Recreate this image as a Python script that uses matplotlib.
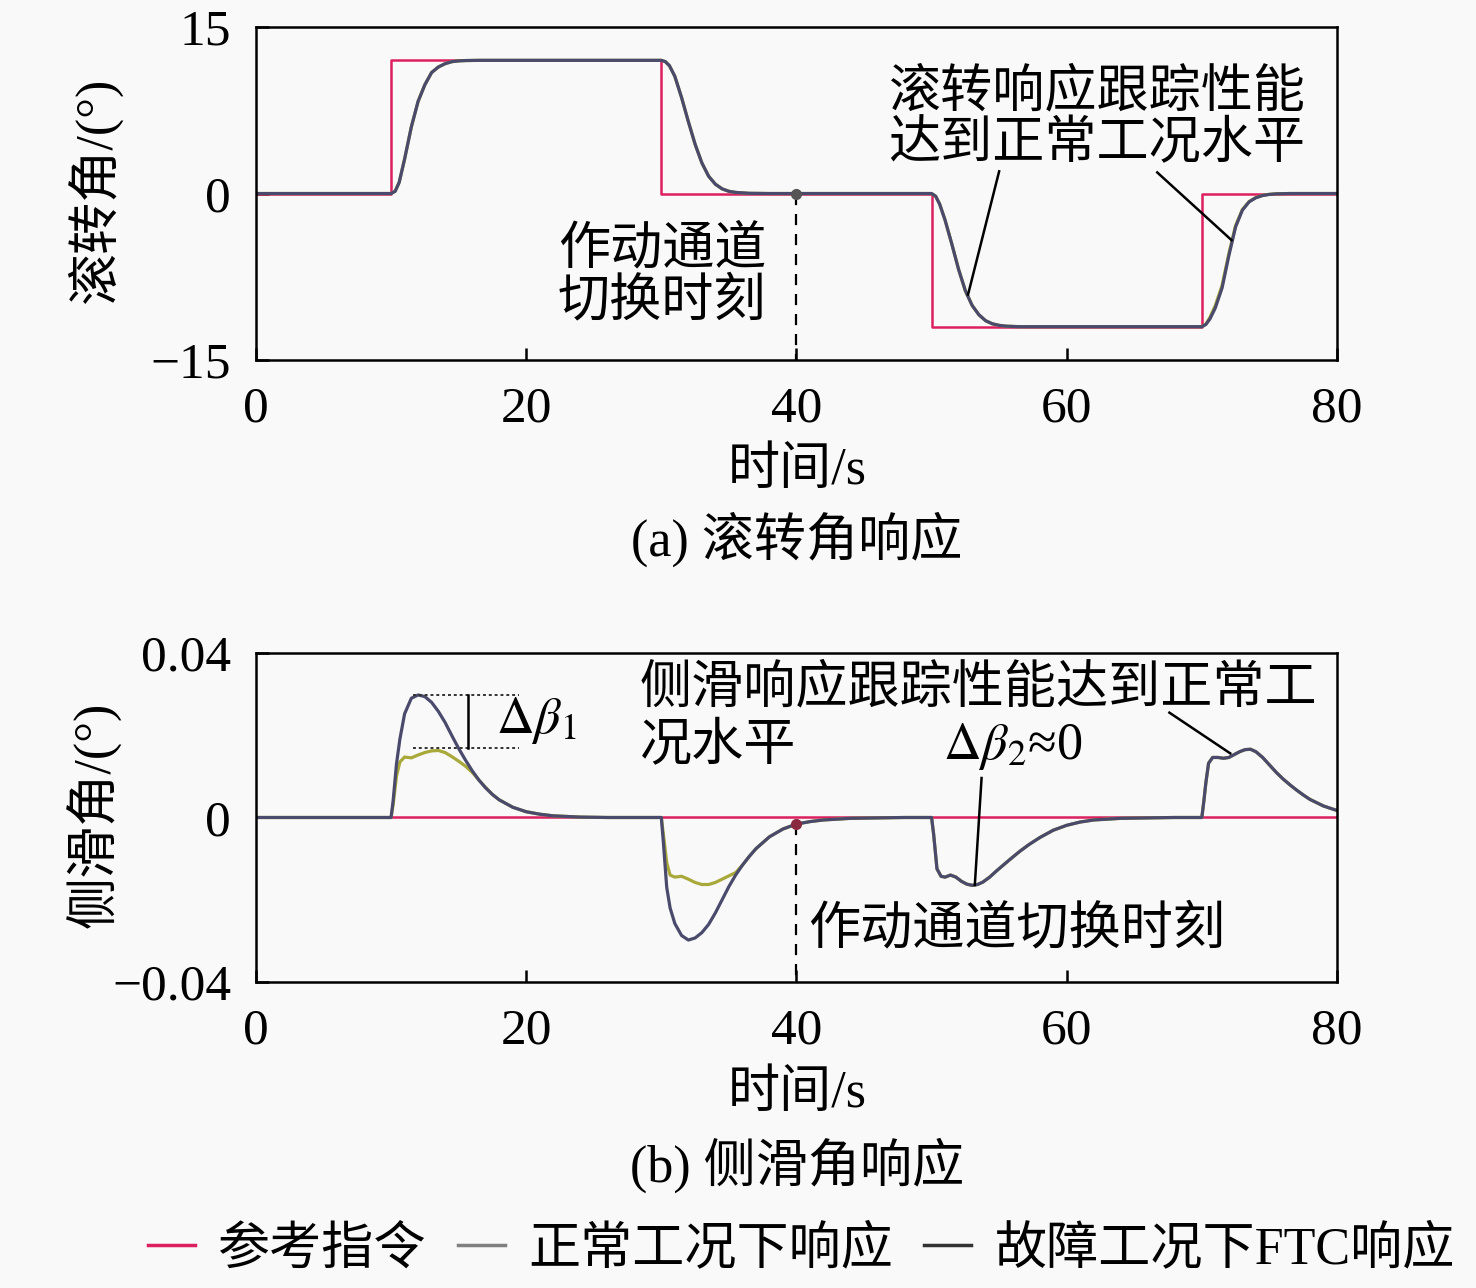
import matplotlib
matplotlib.use('Agg')
import matplotlib.pyplot as plt
from matplotlib.lines import Line2D

plt.rcParams['font.family'] = ['Liberation Serif', 'Noto Sans CJK SC']
plt.rcParams['mathtext.fontset'] = 'stix'
plt.rcParams['axes.unicode_minus'] = True

# reference command (step changes), roll angle in degrees
ref_t = [0, 10, 30, 50, 70, 80]
ref_roll = [0, 12, 0, -12, 0, 0]

# roll responses
roll_t = [0, 10, 10.3, 10.6, 11.0, 11.5, 12.0, 12.5, 13.0, 13.5, 14.0, 14.5, 15.0, 15.5, 16.5, 18,
          30, 30.3, 30.6, 31.0, 31.5, 32.0, 32.5, 33.0, 33.5, 34.0, 34.5, 35.0, 35.5, 36.5, 38,
          50, 50.3, 50.6, 51.0, 51.5, 52.0, 52.5, 53.0, 53.5, 54.0, 54.5, 55.0, 55.5, 56.5, 58,
          70, 70.3, 70.6, 71.0, 71.5, 72.0, 72.5, 73.0, 73.5, 74.0, 74.5, 75.0, 75.5, 76.5, 78, 80]
roll_normal = [0, 0, 0.2, 1.0, 3.1, 6.0, 8.3, 9.8, 10.9, 11.4, 11.7, 11.88, 11.95, 11.98, 12, 12,
               12, 11.88, 11.52, 10.56, 8.64, 6.48, 4.44, 2.76, 1.56, 0.84, 0.42, 0.2, 0.1, 0.02, 0,
               0, -0.24, -0.96, -2.4, -4.56, -6.84, -8.76, -10.08, -10.92, -11.46, -11.74, -11.88, -11.95, -12, -12,
               -12, -11.76, -11.16, -10.08, -8.28, -5.4, -2.88, -1.44, -0.72, -0.36, -0.17, -0.07, -0.02, 0, 0, 0]
roll_ftc = [0, 0, 0.2, 1.0, 3.1, 6.0, 8.3, 9.8, 10.9, 11.4, 11.7, 11.88, 11.95, 11.98, 12, 12,
            12, 11.88, 11.52, 10.56, 8.64, 6.48, 4.44, 2.76, 1.56, 0.84, 0.42, 0.2, 0.1, 0.02, 0,
            0, -0.24, -0.96, -2.4, -4.56, -6.84, -8.76, -10.08, -10.92, -11.46, -11.74, -11.88, -11.95, -12, -12,
            -12, -11.8, -11.3, -10.3, -8.5, -5.6, -3.0, -1.5, -0.75, -0.38, -0.18, -0.08, -0.03, 0, 0, 0]

# sideslip responses
ss_t = [0, 10, 10.15, 10.4, 10.65, 11.0, 11.5, 12.0, 12.5, 13, 13.5, 14, 14.5, 15, 15.5, 16, 16.5, 17, 17.5, 18,
        19, 20, 21, 22, 24, 26, 28,
        30, 30.15, 30.4, 30.65, 31, 31.5, 32, 32.5, 33, 33.5, 34, 34.5, 35, 35.5, 36, 36.5, 37, 38,
        39, 40, 41, 42, 44, 46, 48,
        50, 50.15, 50.4, 50.7, 51, 51.4, 51.8, 52.2, 52.6, 53, 53.4, 53.8, 54.3, 54.8, 55.3, 55.8,
        56.5, 57.2, 58, 59, 60, 61, 62, 64, 66, 68,
        70, 70.15, 70.3, 70.5, 70.8, 71.2, 71.6, 72.0, 72.4, 72.8, 73.2, 73.6, 74.0, 74.5, 75, 75.5,
        76, 76.5, 77, 77.5, 78, 79, 80]
ss_ftc = [0, 0, 0.004, 0.013, 0.019, 0.0252, 0.0290, 0.0298, 0.0294, 0.0280, 0.0258, 0.0231, 0.0199, 0.0168,
          0.0140, 0.0114, 0.0091, 0.0072, 0.0056, 0.0043,
          0.0025, 0.0014, 0.0008, 0.0004, 0.0001, 0, 0,
          0, -0.006, -0.017, -0.022, -0.0258, -0.0287, -0.0298, -0.0293, -0.0280, -0.0260, -0.0232, -0.0200,
          -0.0168, -0.0140, -0.0116, -0.0095, -0.0076, -0.0047,
          -0.0028, -0.0016, -0.0010, -0.0006, -0.0002, -0.0001, 0,
          0, -0.004, -0.0125, -0.0143, -0.0145, -0.0140, -0.0145, -0.0155, -0.0162, -0.0165, -0.0163, -0.0157,
          -0.0145, -0.013, -0.0116, -0.0102,
          -0.0083, -0.0066, -0.0049, -0.0031, -0.0019, -0.0011, -0.0006, -0.0002, -0.0001, 0,
          0, 0.004, 0.0085, 0.0132, 0.0146, 0.0146, 0.0144, 0.0146, 0.0153, 0.0160, 0.0165, 0.0166, 0.0160,
          0.0146, 0.0128, 0.0110,
          0.0094, 0.0080, 0.0067, 0.0055, 0.0044, 0.0028, 0.0017]
ss_normal = [0, 0, 0.003, 0.010, 0.0135, 0.0147, 0.0145, 0.0152, 0.0158, 0.0162, 0.0163, 0.0158, 0.0148, 0.0137,
             0.0125, 0.0110, 0.0091, 0.0073, 0.0056, 0.0043,
             0.0025, 0.0014, 0.0008, 0.0004, 0.0001, 0, 0,
             0, -0.004, -0.011, -0.0140, -0.0145, -0.0143, -0.0150, -0.0158, -0.0163, -0.0163, -0.0158, -0.0150,
             -0.0142, -0.0134, -0.0116, -0.0095, -0.0076, -0.0047,
             -0.0028, -0.0016, -0.0010, -0.0006, -0.0002, -0.0001, 0,
             0, -0.004, -0.0125, -0.0143, -0.0145, -0.0140, -0.0145, -0.0155, -0.0162, -0.0165, -0.0163, -0.0157,
             -0.0145, -0.013, -0.0116, -0.0102,
             -0.0083, -0.0066, -0.0049, -0.0031, -0.0019, -0.0011, -0.0006, -0.0002, -0.0001, 0,
             0, 0.004, 0.0085, 0.0132, 0.0146, 0.0146, 0.0144, 0.0146, 0.0153, 0.0160, 0.0165, 0.0166, 0.0160,
             0.0146, 0.0128, 0.0110,
             0.0094, 0.0080, 0.0067, 0.0055, 0.0044, 0.0028, 0.0017]

x_ticks = [0, 20, 40, 60, 80]
roll_ticks = [-15, 0, 15]
roll_ticklabels = ['\u221215', '0', '15']
ss_ticks = [-0.04, 0, 0.04]
ss_ticklabels = ['\u22120.04', '0', '0.04']

c_ref = '#dc1f5e'
c_norm = '#a9a83a'
c_ftc = '#4a4a6c'
fs = 37.5
fs_tick = 37

fig = plt.figure(figsize=(14.76, 12.88), dpi=100)
fig.patch.set_facecolor('#f9f9f9')
ax1 = fig.add_axes([0.1734, 0.7205, 0.7324, 0.2585])
ax2 = fig.add_axes([0.1734, 0.2376, 0.7324, 0.2554])


def style(ax, yt, ytl, ylim):
    ax.set_facecolor('#f9f9f9')
    ax.set_xlim(0, 80)
    ax.set_ylim(*ylim)
    ax.set_xticks(x_ticks)
    ax.set_xticklabels([str(v) for v in x_ticks])
    ax.set_yticks(yt)
    ax.set_yticklabels(ytl)
    ax.tick_params(direction='in', length=9, width=1.8, labelsize=fs_tick)
    ax.tick_params(axis='x', pad=19)
    ax.tick_params(axis='y', pad=18)
    for s in ax.spines.values():
        s.set_linewidth(1.8)


# (a) roll angle
ax1.plot(ref_t, ref_roll, drawstyle='steps-post', color=c_ref, lw=1.8)
ax1.plot(roll_t, roll_normal, color=c_norm, lw=2.3)
ax1.plot(roll_t, roll_ftc, color=c_ftc, lw=2.3)
ax1.plot([40, 40], [0, -15], color='black', lw=1.6, dashes=(5, 4))
ax1.plot([40], [0], 'o', color='#555555', ms=7)
style(ax1, roll_ticks, roll_ticklabels, (-15, 15))
ax1.text(30.05, -7.45, '作动通道\n切换时刻', fontsize=fs, ha='center', va='center', linespacing=1.07)
ax1.text(46.8, 6.75, '滚转响应跟踪性能\n达到正常工况水平', fontsize=fs, ha='left', va='center',
         linespacing=1.08)
ax1.plot([55.0, 52.7], [2.0, -9.1], color='black', lw=1.8)
ax1.plot([66.7, 72.2], [1.9, -4.2], color='black', lw=1.8)

# (b) sideslip angle
ax2.plot([0, 80], [0, 0], color=c_ref, lw=1.8)
ax2.plot(ss_t, ss_normal, color=c_norm, lw=2.3)
ax2.plot(ss_t, ss_ftc, color=c_ftc, lw=2.3)
ax2.plot([40, 40], [-0.0015, -0.04], color='black', lw=1.6, dashes=(5, 4))
ax2.plot([40], [-0.0015], 'o', color='#8a2a40', ms=7)
style(ax2, ss_ticks, ss_ticklabels, (-0.04, 0.04))
ax2.plot([11.6, 19.5], [0.0298, 0.0298], color='#333333', lw=1.4, ls=(0, (1.5, 1.5)))
ax2.plot([11.6, 19.5], [0.0169, 0.0169], color='#333333', lw=1.4, ls=(0, (1.5, 1.5)))
ax2.plot([15.7, 15.7], [0.0169, 0.0298], color='black', lw=1.8)
ax2.text(17.8, 0.0237, r'$\Delta\beta_1$', fontsize=fs, ha='left', va='center')
ax2.text(28.4, 0.0313, '侧滑响应跟踪性能达到正常工', fontsize=fs, ha='left', va='center')
ax2.text(28.4, 0.0171, '况水平', fontsize=fs, ha='left', va='center')
ax2.plot([67.6, 72.1], [0.0255, 0.0156], color='black', lw=1.8)
ax2.text(56.0, 0.0173, r'$\Delta\beta_2$≈0', fontsize=fs, ha='center', va='center')
ax2.plot([53.7, 53.2], [0.0096, -0.0164], color='black', lw=1.8)
ax2.text(56.3, -0.0274, '作动通道切换时刻', fontsize=fs, ha='center', va='center')

# axis labels and captions
fig.text(0.064, 0.852, '滚转角/(°)', fontsize=fs, rotation=90, ha='center', va='center')
fig.text(0.064, 0.367, '侧滑角/(°)', fontsize=fs, rotation=90, ha='center', va='center')
fig.text(0.54, 0.634, '时间/s', fontsize=fs, ha='center', va='center')
fig.text(0.54, 0.1505, '时间/s', fontsize=fs, ha='center', va='center')
fig.text(0.54, 0.581, '(a) 滚转角响应', fontsize=fs, ha='center', va='center')
fig.text(0.54, 0.0955, '(b) 侧滑角响应', fontsize=fs, ha='center', va='center')

handles = [Line2D([], [], color=c_ref, lw=2.5),
           Line2D([], [], color='#808080', lw=2.5),
           Line2D([], [], color='#333333', lw=2.5)]
fig.legend(handles, ['参考指令', '正常工况下响应', '故障工况下FTC响应'], loc='center',
           bbox_to_anchor=(0.543, 0.0295), ncol=3, frameon=False, fontsize=fs,
           handlelength=0.9, handletextpad=0.45, columnspacing=0.6, borderpad=0.1)

fig.savefig('out.png', dpi=100, facecolor=fig.get_facecolor())
